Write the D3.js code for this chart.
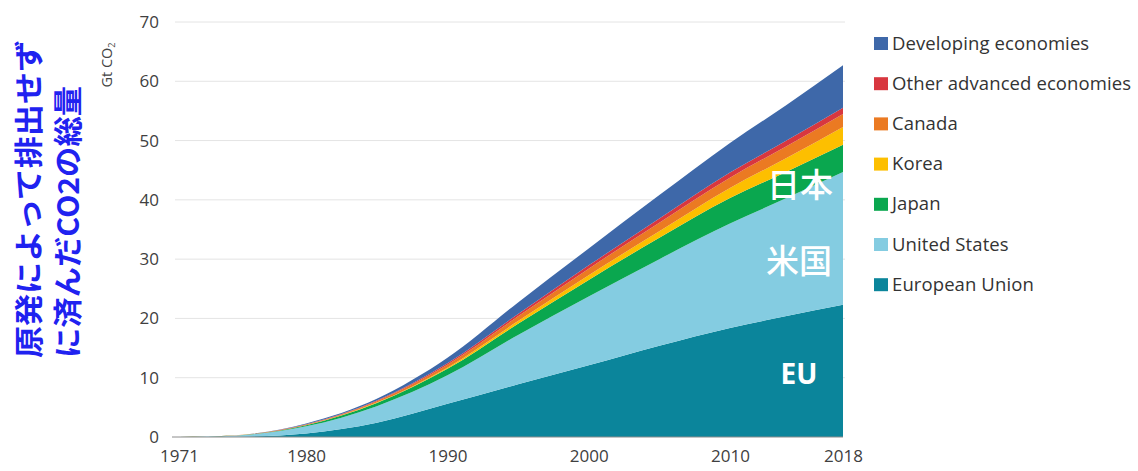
<!DOCTYPE html>
<html>
<head>
<meta charset="utf-8">
<script src="https://cdn.jsdelivr.net/npm/d3@7"></script>
<style>
  html, body { margin: 0; padding: 0; background: #fff; }
  svg { display: block; }
</style>
</head>
<body>
<svg id="chart" width="1138" height="471"></svg>
<script>
// Cumulative CO2 emissions avoided by nuclear power (Gt CO2), 1971-2018
const years = [1971, 1975, 1980, 1985, 1990, 1995, 2000, 2005, 2010, 2014, 2018];
const euValues         = [0, 0.05, 0.6, 2.4, 5.6, 8.9, 12.1, 15.4, 18.4, 20.4, 22.3];
const usValues         = [0, 0.2, 1.2, 2.8, 4.8, 8.3, 11.6, 14.6, 17.6, 19.9, 22.4];
const japanValues      = [0, 0.02, 0.2, 0.55, 1.1, 1.9, 2.8, 3.6, 4.3, 4.45, 4.6];
const koreaValues      = [0, 0, 0, 0.05, 0.2, 0.45, 0.8, 1.1, 1.7, 2.3, 3.0];
const canadaValues     = [0, 0.01, 0.1, 0.25, 0.5, 0.8, 1.1, 1.45, 1.75, 2.0, 2.2];
const otherAdvValues   = [0, 0, 0.03, 0.1, 0.25, 0.4, 0.55, 0.7, 0.85, 0.95, 1.05];
const developingValues = [0, 0.02, 0.15, 0.3, 0.9, 1.95, 2.85, 3.95, 5.0, 6.0, 7.15];

const seriesKeys   = ["eu", "us", "japan", "korea", "canada", "other", "developing"];
const seriesNames  = ["European Union", "United States", "Japan", "Korea", "Canada",
                      "Other advanced economies", "Developing economies"];
const seriesColors = ["#0b859b", "#84cce1", "#0aa74f", "#fdbf00", "#eb7a22", "#d8373f", "#3e68a9"];
const seriesData   = [euValues, usValues, japanValues, koreaValues, canadaValues,
                      otherAdvValues, developingValues];

const xTicks = [1971, 1980, 1990, 2000, 2010, 2018];
const yTicks = [0, 10, 20, 30, 40, 50, 60, 70];

const rows = years.map((yr, i) => {
  const r = { year: yr };
  seriesKeys.forEach((k, j) => { r[k] = seriesData[j][i]; });
  return r;
});

const svg = d3.select("#chart");
const x = d3.scaleLinear().domain([1971, 2018]).range([179, 843]);
const y = d3.scaleLinear().domain([0, 70]).range([437, 22]);
const color = d3.scaleOrdinal().domain(seriesKeys).range(seriesColors);

// gridlines
svg.append("g")
  .selectAll("line")
  .data(yTicks.filter(v => v > 0))
  .join("line")
  .attr("x1", 175).attr("x2", 845)
  .attr("y1", d => y(d)).attr("y2", d => y(d))
  .attr("stroke", "#e4e4e4").attr("stroke-width", 1);

// stacked areas
const stack = d3.stack().keys(seriesKeys);
const layers = stack(rows);
const area = d3.area()
  .x(d => x(d.data.year))
  .y0(d => y(d[0]))
  .y1(d => y(d[1]))
  .curve(d3.curveMonotoneX);

svg.append("g")
  .selectAll("path")
  .data(layers)
  .join("path")
  .attr("fill", d => color(d.key))
  .attr("d", area);

// baseline
svg.append("line")
  .attr("x1", 172).attr("x2", 843)
  .attr("y1", y(0)).attr("y2", y(0))
  .attr("stroke", "#8c8c8c").attr("stroke-width", 1);

// y axis labels
const yAxis = d3.axisLeft(y).tickValues(yTicks).tickSize(0).tickPadding(0);
svg.append("g")
  .attr("transform", "translate(159,0)")
  .call(yAxis)
  .call(g => g.select(".domain").remove())
  .selectAll("text")
  .attr("font-family", "'Open Sans', sans-serif")
  .attr("font-size", 17)
  .attr("fill", "#404040");

// x axis labels
const xAxis = d3.axisBottom(x).tickValues(xTicks).tickFormat(d3.format("d")).tickSize(0).tickPadding(0);
svg.append("g")
  .attr("transform", "translate(0,450)")
  .call(xAxis)
  .call(g => g.select(".domain").remove())
  .selectAll("text")
  .attr("font-family", "'Open Sans', sans-serif")
  .attr("font-size", 17)
  .attr("fill", "#404040");

// unit label
const unit = svg.append("text")
  .attr("transform", "translate(112,65) rotate(-90)")
  .attr("text-anchor", "middle")
  .attr("font-family", "'Open Sans', sans-serif")
  .attr("font-size", 14.5)
  .attr("fill", "#444");
unit.append("tspan").text("Gt CO");
unit.append("tspan").attr("font-size", 9).attr("dy", 3).text("2");

// vertical Japanese title (two columns, reading bottom to top)
const titleLines = ["原発によって排出せず", "に済んだCO2の総量"];
const titleX = [40, 79];
const titleLen = [318, 272];
svg.append("g")
  .selectAll("text")
  .data(titleLines)
  .join("text")
  .attr("transform", (d, i) => `translate(${titleX[i]},358) rotate(-90)`)
  .attr("font-family", "'Noto Sans CJK JP', sans-serif")
  .attr("font-weight", 700)
  .attr("font-size", 29)
  .attr("fill", "#1f22f0")
  .attr("textLength", (d, i) => titleLen[i])
  .attr("lengthAdjust", "spacingAndGlyphs")
  .text(d => d);

// labels inside the areas
const inner = [
  { text: "日本", x: 800, y: 197, size: 33, weight: 500 },
  { text: "米国", x: 799, y: 273, size: 33, weight: 500 },
  { text: "EU",   x: 799, y: 384, size: 28, weight: 700 }
];
svg.append("g")
  .selectAll("text")
  .data(inner)
  .join("text")
  .attr("x", d => d.x).attr("y", d => d.y)
  .attr("text-anchor", "middle")
  .attr("font-family", d => d.text === "EU" ? "'Open Sans', sans-serif" : "'Noto Sans CJK JP', sans-serif")
  .attr("font-size", d => d.size)
  .attr("font-weight", d => d.weight)
  .attr("fill", "#fff")
  .text(d => d.text);

// legend (top to bottom: reverse stacking order)
const legendItems = seriesKeys.map((k, i) => ({ key: k, name: seriesNames[i] })).reverse();
const legend = svg.append("g")
  .selectAll("g")
  .data(legendItems)
  .join("g")
  .attr("transform", (d, i) => `translate(874,${37 + i * 40.2})`);
legend.append("rect")
  .attr("width", 14).attr("height", 13)
  .attr("fill", d => color(d.key));
legend.append("text")
  .attr("x", 18).attr("y", 12.5)
  .attr("font-family", "'Open Sans', sans-serif")
  .attr("font-size", 18.5)
  .attr("fill", "#333")
  .attr("letter-spacing", 0.1)
  .text(d => d.name);
</script>
</body>
</html>
